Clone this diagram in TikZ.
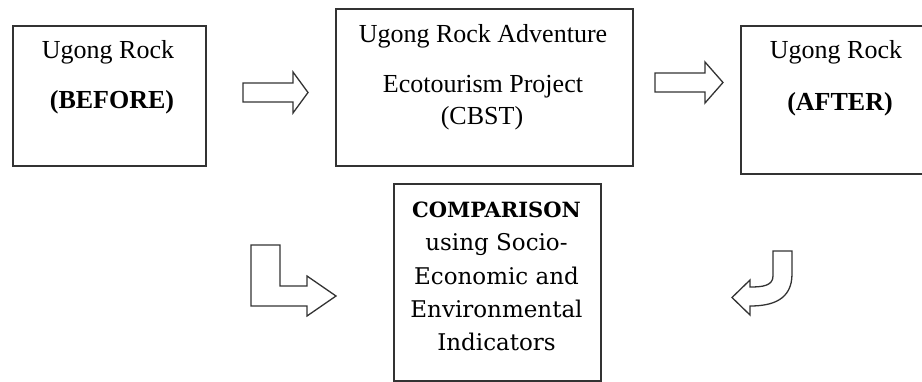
\documentclass[tikz,border=0pt]{standalone}
\usepackage{fontspec}
\setmainfont{Liberation Serif}
\newfontfamily\cmpfont{DejaVu Serif}
\begin{document}
\begin{tikzpicture}[x=1pt,y=-1pt,
  boxline/.style={draw=black!80, line width=1.6pt, inner sep=0pt, anchor=north west},
  blockarrow/.style={draw=black!80, line width=1.3pt, fill=white, line join=miter},
  lbl/.style={anchor=base, inner sep=0pt, font=\fontsize{26}{30}\selectfont},
  blbl/.style={anchor=base, inner sep=0pt, font=\fontsize{26}{30}\selectfont\bfseries},
  clbl/.style={anchor=base, inner sep=0pt, font=\fontsize{23}{28}\selectfont\cmpfont},
  cblbl/.style={anchor=base, inner sep=0pt, font=\fontsize{21}{26}\selectfont\cmpfont\bfseries}]
\useasboundingbox (0,0) rectangle (922,381);
\clip (0,0) rectangle (922,381);
% boxes
\node[boxline, minimum width=193pt, minimum height=140pt] (before) at (12,25) {};
\node[boxline, minimum width=297pt, minimum height=157pt] (project) at (335,8) {};
\node[boxline, minimum width=200pt, minimum height=148pt] (after) at (740,25) {};
\node[boxline, minimum width=207pt, minimum height=197pt] (cmp) at (393,183) {};
% texts
\node[lbl]  (t1a) at (108,58)  {Ugong Rock};
\node[blbl] (t1b) at (112,108) {(BEFORE)};
\node[lbl]  (t2a) at (483,42)  {Ugong Rock Adventure};
\node[lbl]  (t2b) at (483,92)  {Ecotourism Project};
\node[lbl]  (t2c) at (482,124) {(CBST)};
\node[lbl]  (t3a) at (836,58)  {Ugong Rock};
\node[blbl] (t3b) at (840,110) {(AFTER)};
\node[cblbl] (t4a) at (496.5,217)   {COMPARISON};
\node[clbl]  (t4b) at (496.5,250.5) {using Socio-};
\node[clbl]  (t4c) at (496.5,284)   {Economic and};
\node[clbl]  (t4d) at (496.5,317)   {Environmental};
\node[clbl]  (t4e) at (496.5,350)   {Indicators};
% block arrows
\draw[blockarrow] (243,83) -- (293,83) -- (293,72) -- (308,92.5) -- (293,113) -- (293,102) -- (243,102) -- cycle;
\draw[blockarrow] (655,73) -- (705,73) -- (705,62) -- (723,82.5) -- (705,103) -- (705,92) -- (655,92) -- cycle;
\draw[blockarrow] (251,245) -- (280,245) -- (280,286) -- (307,286) -- (307,276) -- (336,296) -- (307,316) -- (307,306) -- (251,306) -- cycle;
\draw[blockarrow] (792,251) -- (792,274) .. controls (792,300) and (772,306) .. (750,306)
  -- (750,315) -- (732,297.5) -- (750,280) -- (750,287)
  .. controls (762,287) and (773,286) .. (773,276) -- (773,251) -- cycle;
\end{tikzpicture}
\end{document}
